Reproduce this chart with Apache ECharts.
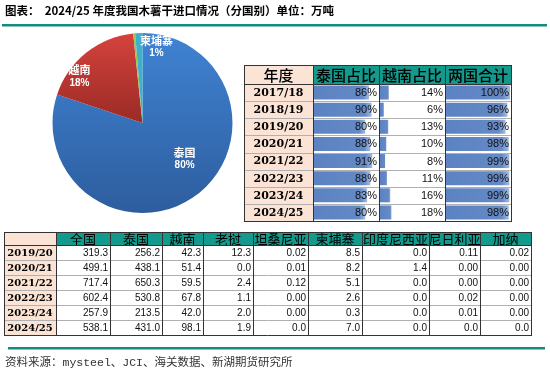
<!DOCTYPE html>
<html><head><meta charset="utf-8">
<script src="https://cdn.jsdelivr.net/npm/echarts@6/dist/echarts.min.js"></script>
<style>html,body{margin:0;padding:0;background:#fff}#c{width:550px;height:371px}</style>
</head><body><div id="c"></div>
<script>
// ---- data ----
const titleText = '图表：  2024/25 年度我国木薯干进口情况（分国别）单位：万吨';
const sourceText = '资料来源：mysteel、JCI、海关数据、新湖期货研究所';

const shareHeaders = ['年度', '泰国占比', '越南占比', '两国合计'];
const shareYears = ['2017/18', '2018/19', '2019/20', '2020/21', '2021/22', '2022/23', '2023/24', '2024/25'];
const thaiShare  = [86, 90, 80, 88, 91, 88, 83, 80];
const vnShare    = [14, 6, 13, 10, 8, 11, 16, 18];
const totalShare = [100, 96, 93, 98, 99, 99, 99, 98];

const importHeaders = ['', '全国', '泰国', '越南', '老挝', '坦桑尼亚', '柬埔寨', '印度尼西亚', '尼日利亚', '加纳'];
const importYears = ['2019/20', '2020/21', '2021/22', '2022/23', '2023/24', '2024/25'];
const impTotal     = ['319.3', '499.1', '717.4', '602.4', '257.9', '538.1'];
const impThai      = ['256.2', '438.1', '650.3', '530.8', '213.5', '431.0'];
const impVietnam   = ['42.3', '51.4', '59.5', '67.8', '42.0', '98.1'];
const impLaos      = ['12.3', '0.0', '2.4', '1.1', '2.0', '1.9'];
const impTanzania  = ['0.02', '0.01', '0.12', '0.00', '0.00', '0.0'];
const impCambodia  = ['8.5', '8.2', '5.1', '2.6', '0.3', '7.0'];
const impIndonesia = ['0.0', '1.4', '0.0', '0.0', '0.0', '0.0'];
const impNigeria   = ['0.11', '0.00', '0.00', '0.02', '0.01', '0.0'];
const impGhana     = ['0.02', '0.00', '0.00', '0.00', '0.00', '0.0'];

const pieNames = ['泰国', '越南', '老挝', '坦桑尼亚', '柬埔寨', '印度尼西亚', '尼日利亚', '加纳'];
const pieSource = [impThai, impVietnam, impLaos, impTanzania, impCambodia, impIndonesia, impNigeria, impGhana];
const pieValues = pieSource.map(a => parseFloat(a[a.length - 1]));

// ---- styles / layout ----
const TEAL = '#139a8c', PEACH = '#fbe4d5', LINE = '#178a80';
const sCols = [244, 313, 379, 445, 511];
const sTop = 65, sHeadB = 84, sRowH = 17.125;
const iCols = [4, 56, 110, 162, 203, 253, 308, 362, 429, 480, 531];
const iTop = 232, iHeadB = 245, iRowH = 15;

const chart = echarts.init(document.getElementById('c'));
const G = [];
function rect(x, y, w, h, fill) { G.push({type: 'rect', z: 0, shape: {x, y, width: w, height: h}, style: {fill}}); }
function line(x1, y1, x2, y2, stroke, lw) { G.push({type: 'line', z: 100, shape: {x1, y1, x2, y2}, style: {stroke, lineWidth: lw || 1}}); }
function txt(x, y, t, font, align, fill) {
  G.push({type: 'text', z: 100, style: {x, y, text: t, font, align, verticalAlign: 'middle', fill: fill || '#000'}});
}

// title + rules
txt(5, 11, titleText, 'bold 11.5px "Noto Sans CJK SC"', 'left', '#000');
rect(2, 24, 545, 2.5, LINE);
rect(8, 347, 537, 2.5, LINE);
txt(5, 363, sourceText, '11.5px "Liberation Mono", "Noto Sans CJK SC"', 'left', '#333');

// share table
rect(sCols[0], sTop, sCols[1] - sCols[0], sHeadB - sTop, PEACH);
for (let c = 1; c < 4; c++) rect(sCols[c], sTop, sCols[c + 1] - sCols[c], sHeadB - sTop, TEAL);
rect(sCols[0], sHeadB, sCols[1] - sCols[0], sRowH * 8, PEACH);
shareHeaders.forEach((h, c) => txt((sCols[c] + sCols[c + 1]) / 2, (sTop + sHeadB) / 2 + 0.5, h, '500 15px "Noto Sans CJK SC"', 'center'));
const shareCols = [thaiShare, vnShare, totalShare];
shareYears.forEach((y, r) => {
  const cy = sHeadB + sRowH * (r + 0.5);
  txt((sCols[0] + sCols[1]) / 2, cy + 0.5, y, 'bold 11px "DejaVu Serif"', 'center');
  shareCols.forEach((arr, c) => txt(sCols[c + 2] - 2, cy + 0.5, arr[r] + '%', '11px "Liberation Sans"', 'right', '#111'));
});
for (let r = 1; r < 8; r++) line(sCols[0], Math.round(sHeadB + sRowH * r) + 0.5, sCols[4], Math.round(sHeadB + sRowH * r) + 0.5, '#b0b0b0');
line(sCols[0], sHeadB + 0.5, sCols[4], sHeadB + 0.5, '#333');
line(sCols[0], sTop + 0.5, sCols[4], sTop + 0.5, '#333');
line(sCols[0], sHeadB + sRowH * 8 + 0.5, sCols[4], sHeadB + sRowH * 8 + 0.5, '#333');
sCols.forEach(x => line(x + 0.5, sTop, x + 0.5, sHeadB + sRowH * 8 + 1, '#333'));

// import table
rect(iCols[0], iTop, iCols[1] - iCols[0], iHeadB - iTop, PEACH);
for (let c = 1; c < 10; c++) rect(iCols[c], iTop, iCols[c + 1] - iCols[c], iHeadB - iTop, TEAL);
rect(iCols[0], iHeadB, iCols[1] - iCols[0], iRowH * 6, PEACH);
importHeaders.forEach((h, c) => { if (h) txt((iCols[c] + iCols[c + 1]) / 2, (iTop + iHeadB) / 2 + 0.5, h, '13px "Noto Sans CJK SC"', 'center'); });
const impCols = [impTotal, impThai, impVietnam, impLaos, impTanzania, impCambodia, impIndonesia, impNigeria, impGhana];
importYears.forEach((y, r) => {
  const cy = iHeadB + iRowH * (r + 0.5);
  txt((iCols[0] + iCols[1]) / 2, cy + 0.5, y, 'bold 10px "DejaVu Serif"', 'center');
  impCols.forEach((arr, c) => txt(iCols[c + 2] - 2, cy + 0.5, arr[r], '10px "Liberation Sans"', 'right', '#111'));
});
for (let r = 1; r < 6; r++) line(iCols[0], iHeadB + iRowH * r + 0.5, iCols[10], iHeadB + iRowH * r + 0.5, '#b0b0b0');
line(iCols[0], iTop + 0.5, iCols[10], iTop + 0.5, '#333');
line(iCols[0], iHeadB + 0.5, iCols[10], iHeadB + 0.5, '#333');
line(iCols[0], iHeadB + iRowH * 6 + 0.5, iCols[10], iHeadB + iRowH * 6 + 0.5, '#333');
iCols.forEach(x => line(x + 0.5, iTop, x + 0.5, iHeadB + iRowH * 6 + 1, '#333'));

// data-bar grids
const grids = [], xAxes = [], yAxes = [], series = [];
shareCols.forEach((arr, i) => {
  const l = sCols[i + 1];
  grids.push({left: l + 1, width: sCols[i + 2] - l - 2, top: sHeadB, height: sRowH * 8});
  xAxes.push({type: 'value', min: 0, max: 100, show: false, gridIndex: i});
  yAxes.push({type: 'category', data: shareYears, inverse: true, show: false, gridIndex: i});
  series.push({
    type: 'bar', xAxisIndex: i, yAxisIndex: i, data: arr, barWidth: 14, silent: true,
    itemStyle: {color: new echarts.graphic.LinearGradient(0, 0, 1, 0, [
      {offset: 0, color: '#5b82c2'}, {offset: 0.88, color: '#6489c6'}, {offset: 1, color: '#a3bbe0'}])}
  });
});

// pie
const pieColors = [
  new echarts.graphic.LinearGradient(0, 0, 0, 1, [{offset: 0, color: '#4083d3'}, {offset: 1, color: '#2d5d9e'}]),
  new echarts.graphic.LinearGradient(0, 0, 0, 1, [{offset: 0, color: '#d4433c'}, {offset: 1, color: '#9b2a26'}]),
  '#a3c04a', '#8064a2', '#3fb0cc', '#f79646', '#2c4d75', '#772c2a'
];
const labelShow = {'泰国': [14, -3], '越南': [-33, -9], '柬埔寨': [16, -28]};
series.push({
  type: 'pie', center: [142.5, 123], radius: [0, 90], startAngle: 90, clockwise: true,
  silent: true, animation: false,
  itemStyle: {borderWidth: 0},
  data: pieNames.map((n, i) => ({
    name: n, value: pieValues[i],
    itemStyle: {color: pieColors[i]},
    label: labelShow[n] ? {show: true, position: 'inside', offset: labelShow[n]} : {show: false}
  })),
  label: {
    formatter: p => '{n|' + p.name + '}\n{p|' + Math.round(p.percent) + '%}',
    rich: {
      n: {fontFamily: 'Noto Sans CJK SC', fontSize: 11, fontWeight: 'bold', color: '#fff', lineHeight: 13, align: 'center'},
      p: {fontFamily: 'Liberation Sans', fontSize: 10, fontWeight: 'bold', color: '#fff', lineHeight: 13, align: 'center'}
    }
  },
  labelLine: {show: false}
});

chart.setOption({
  animation: false,
  grid: grids, xAxis: xAxes, yAxis: yAxes, series,
  graphic: {elements: G}
});
</script></body></html>
